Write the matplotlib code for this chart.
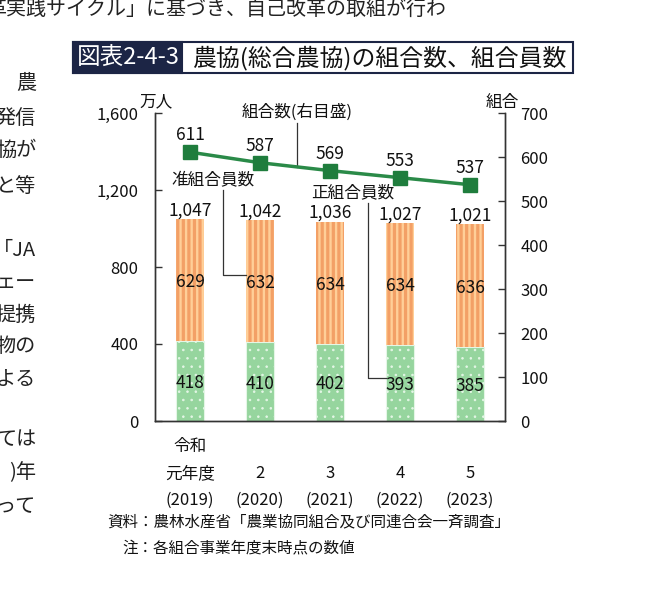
import matplotlib
matplotlib.use("Agg")
import matplotlib.pyplot as plt
from matplotlib.patches import Rectangle
from matplotlib.ticker import FuncFormatter, MultipleLocator
import numpy as np

plt.rcParams['font.family'] = ['Noto Sans CJK JP', 'DejaVu Sans']

# ---- data ----
years_line1 = ["令和", "", "", "", ""]
years_line2 = ["元年度", "2", "3", "4", "5"]
years_line3 = ["(2019)", "(2020)", "(2021)", "(2022)", "(2023)"]
regular_members = [418, 410, 402, 393, 385]      # 正組合員数 (万人)
associate_members = [629, 632, 634, 634, 636]    # 准組合員数 (万人)
total_members = [1047, 1042, 1036, 1027, 1021]   # 合計 (万人)
num_coops = [611, 587, 569, 553, 537]            # 組合数 (右目盛)

W, H = 646, 605
fig = plt.figure(figsize=(W / 100, H / 100), dpi=100)

def fx(x):
    return x / W

def fy(y):
    return 1 - y / H

# ---- surrounding page text ----
fig.text(fx(447), fy(10), "革実践サイクル」に基づき、自己改革の取組が行わ",
         ha='right', va='center', fontsize=14.4, color='#222')
left_frag = [("農", 83), ("発信", 118), ("協が", 150), ("と等", 187),
             ("「JA", 250), ("ェー", 282), ("提携", 315), ("物の", 347),
             ("よる", 380), ("ては", 440), (")年", 473), ("って", 507)]
for s, yy in left_frag:
    fig.text(fx(36), fy(yy), s, ha='right', va='center', fontsize=14.5, color='#222')

# ---- title box ----
fig.add_artist(Rectangle((fx(73), fy(73)), fx(573) - fx(73), fy(42) - fy(73),
                         transform=fig.transFigure, facecolor='white',
                         edgecolor='#1c2545', lw=1.5))
fig.add_artist(Rectangle((fx(73), fy(73)), fx(182) - fx(73), fy(42) - fy(73),
                         transform=fig.transFigure, facecolor='#1c2545',
                         edgecolor='#1c2545', lw=1.5))
fig.text(fx(128), fy(58), "図表2-4-3", ha='center', va='center',
         fontsize=17, color='white')
fig.text(fx(192), fy(58), "農協(総合農協)の組合数、組合員数", ha='left', va='center',
         fontsize=17.2, color='#111')

# ---- axes ----
ax = fig.add_axes([fx(155), fy(421), fx(505) - fx(155), fy(113) - fy(421)])
ax2 = ax.twinx()
x = np.arange(len(regular_members))
bw = 0.39

plt.rcParams['hatch.linewidth'] = 0.6
ax.bar(x, regular_members, bw, color='#96d59e', edgecolor='#e4f6e6',
       hatch='..', linewidth=0.8, zorder=2)
plt.rcParams['hatch.linewidth'] = 1.7
ax.bar(x, associate_members, bw, bottom=regular_members, color='#f3a066',
       edgecolor='#ffcf98', hatch='|||', linewidth=0, zorder=2)

nfs = 12.5
for i in range(len(x)):
    ax.text(x[i], regular_members[i] / 2, f"{regular_members[i]}",
            ha='center', va='center_baseline', fontsize=nfs, color='#111', zorder=4)
    ax.text(x[i], regular_members[i] + associate_members[i] / 2,
            f"{associate_members[i]}", ha='center', va='center_baseline',
            fontsize=nfs, color='#111', zorder=4)
    ax.annotate(f"{total_members[i]:,}", (x[i], total_members[i]),
                xytext=(0, 2.5), textcoords='offset points',
                ha='center', va='baseline', fontsize=nfs, color='#111', zorder=4)

ax.set_xlim(-0.5, len(x) - 0.5)
ax.set_ylim(0, 1600)
ax.yaxis.set_major_locator(MultipleLocator(400))
ax.yaxis.set_major_formatter(FuncFormatter(lambda v, p: f"{int(v):,}"))
ax2.set_ylim(0, 700)
ax2.yaxis.set_major_locator(MultipleLocator(100))

ax2.plot(x, num_coops, color='#2a8a48', lw=2.5, marker='s', markersize=9.5,
         markerfacecolor='#1f7d3d', markeredgecolor='#1f7d3d', zorder=5)
for i in range(len(x)):
    ax2.annotate(f"{num_coops[i]}", (x[i], num_coops[i]), xytext=(0, 8.5),
                 textcoords='offset points', ha='center', va='baseline',
                 fontsize=nfs, color='#111')

ax.set_xticks([])
ax2.set_xticks([])
for a in (ax, ax2):
    a.spines['top'].set_visible(False)
    for s in ('left', 'right', 'bottom'):
        a.spines[s].set_color('#333')
        a.spines[s].set_linewidth(1.0)
ax.tick_params(axis='y', direction='in', length=5, width=1, color='#333',
               labelsize=12, labelcolor='#111', pad=12)
ax2.tick_params(axis='y', direction='in', length=5, width=1, color='#333',
                labelsize=12, labelcolor='#111', pad=11)
ax.set_zorder(1)
ax2.set_zorder(2)
ax.patch.set_visible(False)
ax2.patch.set_visible(False)

# unit labels
fig.text(fx(156), fy(102), "万人", ha='center', va='center', fontsize=12, color='#111')
fig.text(fx(502), fy(102), "組合", ha='center', va='center', fontsize=12, color='#111')

# category labels
for i in range(len(x)):
    xf = ax.transData.transform((x[i], 0))[0] / W
    fig.text(xf, fy(447), years_line1[i], ha='center', va='center', fontsize=12, color='#111')
    fig.text(xf, fy(474), years_line2[i], ha='center', va='center', fontsize=12, color='#111')
    fig.text(xf, fy(500), years_line3[i], ha='center', va='center', fontsize=12, color='#111')

# ---- annotations with leader lines ----
lc = '#333'
afs = 12
# 組合数(右目盛)
xa = 1.53
ya = np.interp(xa, x, num_coops)
ax2.text(xa, 702, "組合数(右目盛)", ha='center', va='center',
         fontsize=afs, color='#111')
ax2.plot([xa, xa], [678, ya], color=lc, lw=0.9, zorder=3)
# 准組合員数
ax.text(0.33, 1250, "准組合員数", ha='center', va='center', fontsize=afs, color='#111')
ax.plot([0.47, 0.47, 1 - bw / 2], [1200, 760, 760], color=lc, lw=0.9, zorder=3)
# 正組合員数
ax.text(2.33, 1185, "正組合員数", ha='center', va='center', fontsize=afs, color='#111')
ax.plot([2.54, 2.54, 3 - bw / 2], [1130, 223, 223], color=lc, lw=0.9, zorder=3)

# ---- source notes ----
fig.text(fx(107), fy(522), "資料：農林水産省「農業協同組合及び同連合会一斉調査」",
         ha='left', va='center', fontsize=11.2, color='#111')
fig.text(fx(122), fy(548), "注：各組合事業年度末時点の数値",
         ha='left', va='center', fontsize=11.2, color='#111')

fig.savefig("out.png", dpi=100)
